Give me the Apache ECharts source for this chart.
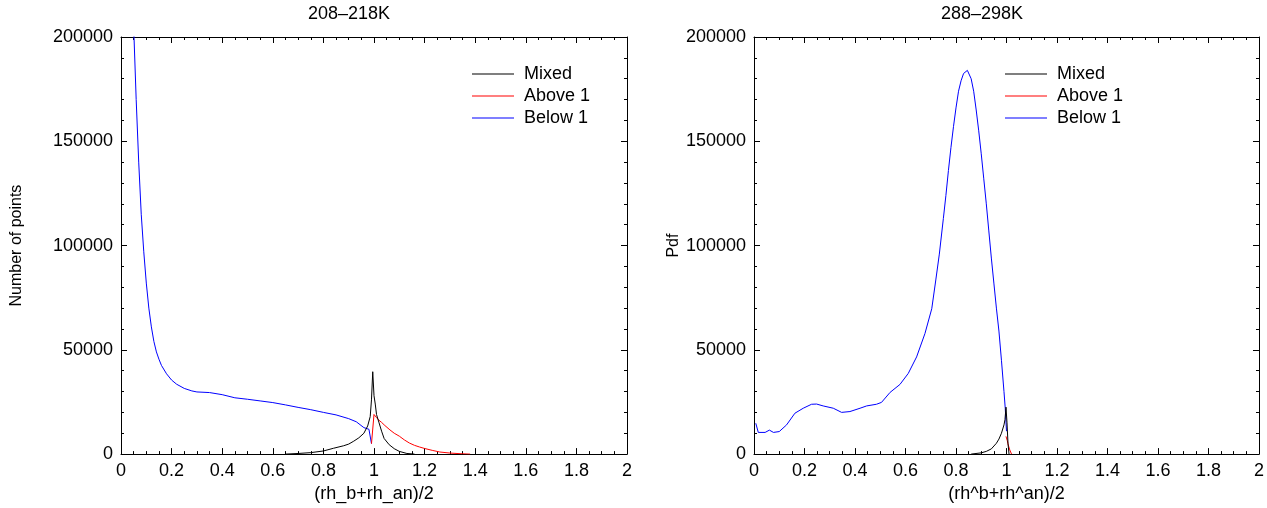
<!DOCTYPE html>
<html>
<head>
<meta charset="UTF-8">
<title>rh distributions</title>
<script src="https://cdn.jsdelivr.net/npm/echarts@6/dist/echarts.min.js"></script>
<style>
  html, body { margin: 0; padding: 0; background: #fff; }
  #chart { width: 1267px; height: 508px; }
</style>
</head>
<body>
<div id="chart"></div>
<script>
// x tick labels (shared by both panels)
const xTicks = [0, 0.2, 0.4, 0.6, 0.8, 1, 1.2, 1.4, 1.6, 1.8, 2];
const seriesNames = ['Mixed', 'Above 1', 'Below 1'];

// 208-218K panel
const coldMixed = [
  [0.65, 0], [0.70, 300], [0.75, 700], [0.80, 1500], [0.84, 2800], [0.88, 4000],
  [0.90, 4800], [0.92, 6200], [0.94, 7800], [0.96, 10000], [0.975, 13500],
  [0.985, 18000], [0.99, 26000], [0.995, 39500], [1.0, 28000], [1.005, 24000],
  [1.01, 19000], [1.02, 15000], [1.03, 11000], [1.04, 7500], [1.06, 4500],
  [1.08, 2600], [1.10, 1300], [1.13, 300], [1.16, 0]
];
const coldAbove = [
  [0.99, 5000], [1.0, 19000], [1.01, 17500], [1.02, 16200], [1.03, 15200],
  [1.043, 13700], [1.063, 11600], [1.08, 10000], [1.10, 8600], [1.12, 6800],
  [1.14, 5300], [1.16, 4200], [1.18, 3400], [1.20, 2700], [1.23, 1800],
  [1.26, 1000], [1.30, 500], [1.34, 200], [1.38, 0]
];
const coldBelow = [
  [0.05, 205000], [0.06, 170000], [0.07, 140000], [0.08, 115000], [0.09, 97000],
  [0.10, 82000], [0.11, 70000], [0.12, 61000], [0.13, 54000], [0.14, 49000],
  [0.15, 45500], [0.16, 42500], [0.18, 38500], [0.20, 35500], [0.22, 33500],
  [0.25, 31500], [0.28, 30300], [0.30, 29800], [0.35, 29500], [0.40, 28500],
  [0.45, 27000], [0.50, 26300], [0.55, 25500], [0.60, 24700], [0.65, 23600],
  [0.70, 22400], [0.75, 21300], [0.80, 20000], [0.85, 18800], [0.90, 17000],
  [0.93, 15500], [0.96, 12700], [0.98, 11900], [0.99, 5000]
];

// 288-298K panel
const warmMixed = [
  [0.86, 0], [0.90, 600], [0.92, 1300], [0.94, 2500], [0.96, 5200], [0.97, 7200],
  [0.98, 10000], [0.99, 14000], [0.994, 16500], [0.998, 22500], [1.002, 15000],
  [1.006, 5000], [1.01, 0]
];
const warmAbove = [
  [0.998, 8500], [1.003, 6500], [1.007, 4400], [1.013, 2000], [1.02, 0]
];
const warmBelow = [
  [0.007, 14800], [0.017, 10400], [0.044, 10400], [0.061, 11500], [0.077, 10400],
  [0.10, 10800], [0.129, 14000], [0.162, 19600], [0.195, 22000], [0.228, 23900],
  [0.248, 24000], [0.274, 23100], [0.314, 22000], [0.347, 20000], [0.38, 20400],
  [0.42, 22000], [0.446, 23100], [0.485, 23900], [0.505, 24800], [0.539, 29600],
  [0.578, 33400], [0.611, 38700], [0.644, 46600], [0.677, 57800], [0.704, 69700],
  [0.72, 83500], [0.734, 95900], [0.75, 113000], [0.76, 124000], [0.77, 136000],
  [0.78, 147000], [0.79, 157000], [0.80, 166000], [0.81, 174000], [0.82, 179000],
  [0.83, 182500], [0.845, 184000], [0.86, 180000], [0.87, 174000], [0.88, 165000],
  [0.89, 155000], [0.90, 144000], [0.91, 132000], [0.92, 120000], [0.93, 107000],
  [0.94, 94000], [0.95, 82000], [0.96, 70000], [0.97, 59000], [0.98, 45000],
  [0.99, 30000], [0.995, 22000], [1.0, 11000]
];

const FONT = 'Liberation Sans, Arial, sans-serif';
const FS = 18;
const colors = ['#000000', '#ff0000', '#0000ff'];

function xAx(grid, bottom, name) {
  return {
    gridIndex: grid, type: 'value', min: 0, max: 2, interval: 0.2,
    position: bottom ? 'bottom' : 'top',
    name: bottom ? name : '', nameLocation: 'middle', nameGap: 29,
    nameTextStyle: { fontFamily: FONT, fontSize: FS, color: '#000' },
    axisLine: { show: true, onZero: false, lineStyle: { color: '#000', width: 1 } },
    axisTick: { show: true, inside: true, length: 6, lineStyle: { color: '#000' } },
    minorTick: { show: true, splitNumber: 4, length: 3, lineStyle: { color: '#000' } },
    splitLine: { show: false },
    axisLabel: {
      show: bottom, margin: 8, fontFamily: FONT, fontSize: FS, color: '#000',
      formatter: v => String(+v.toFixed(1))
    }
  };
}
function yAx(grid, left, name, gap) {
  return {
    gridIndex: grid, type: 'value', min: 0, max: 200000, interval: 50000,
    position: left ? 'left' : 'right',
    name: left ? name : '', nameLocation: 'middle', nameGap: gap,
    nameTextStyle: { fontFamily: FONT, fontSize: 16, color: '#000' },
    axisLine: { show: true, onZero: false, lineStyle: { color: '#000', width: 1 } },
    axisTick: { show: true, inside: true, length: 6, lineStyle: { color: '#000' } },
    minorTick: { show: true, splitNumber: 5, length: 3, lineStyle: { color: '#000' } },
    splitLine: { show: false },
    axisLabel: {
      show: left, margin: 8, fontFamily: FONT, fontSize: FS, color: '#000',
      formatter: v => String(v)
    }
  };
}
function line(name, data, axisBase, color) {
  return {
    name, type: 'line', data, xAxisIndex: axisBase, yAxisIndex: axisBase,
    symbol: 'none', clip: true, color,
    lineStyle: { color, width: 1 }
  };
}
function legendAt(left) {
  return {
    data: seriesNames, orient: 'vertical', left, top: 60,
    icon: 'rect', itemWidth: 42, itemHeight: 1, itemGap: 4,
    textStyle: { fontFamily: FONT, fontSize: FS, color: '#000', lineHeight: 14, padding: [0, 0, 0, 5] }
  };
}

const chart = echarts.init(document.getElementById('chart'), null, { renderer: 'canvas' });
chart.setOption({
  animation: false,
  backgroundColor: '#fff',
  title: [
    { text: '208–218K', left: 344, top: 0, textAlign: 'center',
      textStyle: { fontFamily: FONT, fontSize: FS, fontWeight: 'normal', color: '#000' } },
    { text: '288–298K', left: 977, top: 0, textAlign: 'center',
      textStyle: { fontFamily: FONT, fontSize: FS, fontWeight: 'normal', color: '#000' } }
  ],
  legend: [legendAt(467), legendAt(1000)],
  grid: [
    { left: 121, top: 37, width: 506, height: 419 },
    { left: 754, top: 37, width: 505, height: 419 }
  ],
  xAxis: [
    xAx(0, true, '(rh_b+rh_an)/2'), xAx(0, false),
    xAx(1, true, '(rh^b+rh^an)/2'), xAx(1, false)
  ],
  yAxis: [
    yAx(0, true, 'Number of points', 96), yAx(0, false),
    yAx(1, true, 'Pdf', 69), yAx(1, false)
  ],
  series: [
    line('Below 1', coldBelow, 0, colors[2]),
    line('Above 1', coldAbove, 0, colors[1]),
    line('Mixed', coldMixed, 0, colors[0]),
    line('Below 1', warmBelow, 2, colors[2]),
    line('Above 1', warmAbove, 2, colors[1]),
    line('Mixed', warmMixed, 2, colors[0])
  ]
});
</script>
</body>
</html>
